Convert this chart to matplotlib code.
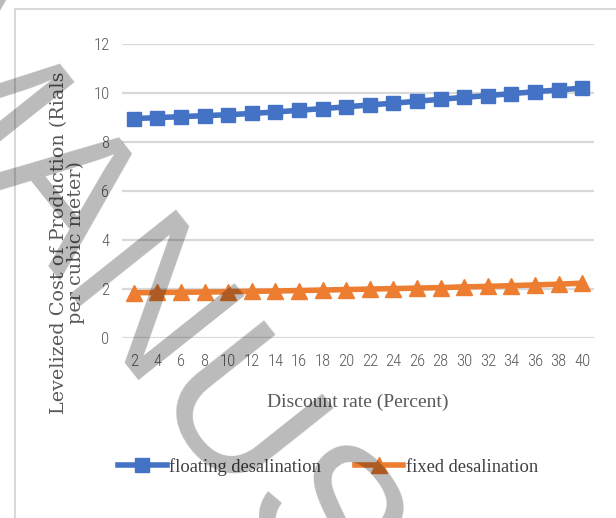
import matplotlib
matplotlib.use("Agg")
import matplotlib.pyplot as plt
from matplotlib.patches import Rectangle

# discount rate (percent) and levelized cost (Rials per cubic meter)
rates = list(range(2, 41, 2))
floating = [8.95, 8.99, 9.03, 9.07, 9.11, 9.16, 9.22, 9.29, 9.36, 9.43,
            9.51, 9.58, 9.66, 9.74, 9.82, 9.89, 9.97, 10.05, 10.12, 10.20]
fixed = [1.83, 1.84, 1.85, 1.86, 1.87, 1.89, 1.90, 1.92, 1.94, 1.96,
         1.98, 2.00, 2.02, 2.04, 2.07, 2.09, 2.12, 2.15, 2.18, 2.22]
yticks = [0, 2, 4, 6, 8, 10, 12]

W, H = 616, 518
fig = plt.figure(figsize=(W / 100, H / 100), dpi=100)

# chart area border
fig.patches.append(Rectangle((15 / W, -0.2), 2, 0.2 + 1 - 8.5 / H, transform=fig.transFigure,
                             fill=False, edgecolor='#d9d9d9', lw=1.5))

ax = fig.add_axes([122 / W, 1 - 337.5 / H, 472 / W, 293.5 / H])
ax.plot(rates, floating, '-s', color='#4472C4', lw=4, ms=10, label='floating desalination')
ax.plot(rates, fixed, '-^', color='#ED7D31', lw=4, ms=11.5, label='fixed desalination')

ax.set_xlim(1, 41)
ax.set_ylim(0, 12)
ax.set_xticks(rates)
ax.set_yticks(yticks)
ax.grid(axis='y', color='#d9d9d9', lw=1.6)
ax.set_axisbelow(True)
for s in ax.spines.values():
    s.set_visible(False)

tick_font = dict(family=['Roboto Condensed', 'DejaVu Sans'], weight=300, size=12)
ax.tick_params(length=0, colors='#595959')
ax.tick_params(axis='x', pad=12)
ax.tick_params(axis='y', pad=9)
for t in ax.get_xticklabels() + ax.get_yticklabels():
    t.set_fontproperties(tick_font)
    t.set_color('#595959')

ax.set_xlabel('Discount rate (Percent)', family='Liberation Serif', size=14,
              color='#595959', labelpad=18)
ax.set_ylabel('Levelized Cost of Production (Rials\nper cubic meter)', family='DejaVu Serif',
              size=13.8, color='#595959', linespacing=0.95, ha='center', va='center',
              multialignment='center')
ax.yaxis.set_label_coords((67.5 - 122) / 472, (337.5 - 243) / 293.5)

fig.legend(loc='center', bbox_to_anchor=(328 / W, 1 - 467 / H), ncol=2, frameon=False,
           prop=dict(family='Liberation Serif', size=13.3), labelcolor='#404040',
           handlelength=2.65, handletextpad=0.15, columnspacing=1.8)

# watermark
fig.text(-130.7 / W, 1 - 62.8 / H, 'MANUSCRIPT', family='Liberation Sans', size=142,
         color='black', alpha=0.27, rotation=-51.5, rotation_mode='anchor',
         ha='left', va='baseline', zorder=10)

fig.savefig('out.png', dpi=100)
